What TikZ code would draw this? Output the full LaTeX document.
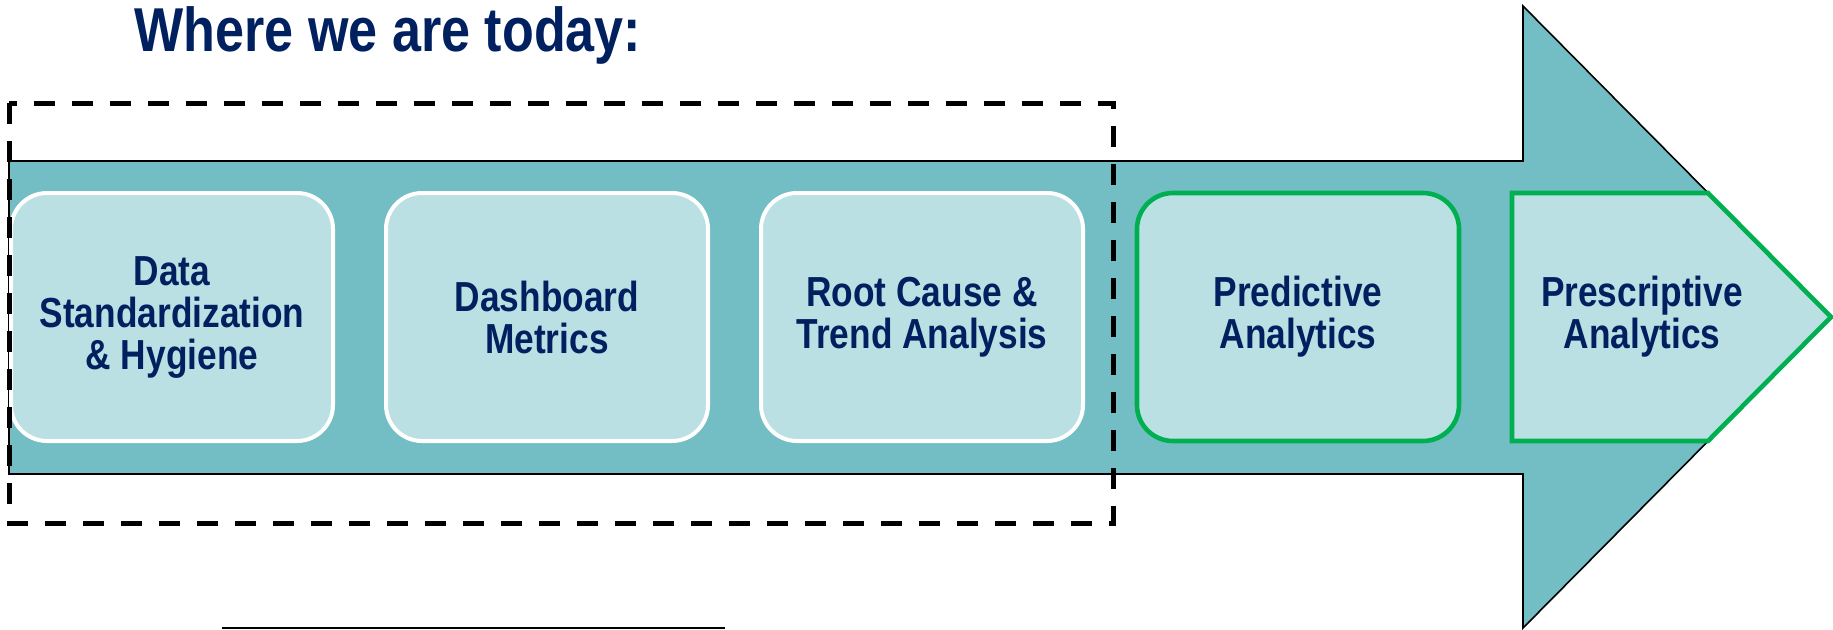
\documentclass[tikz,border=0pt]{standalone}
\usepackage{fontspec}
\usetikzlibrary{calc, backgrounds}
\newfontfamily\stagefont[FakeStretch=0.84]{Liberation Sans}
\definecolor{roadteal}{rgb}{0.451, 0.745, 0.773}
\definecolor{roadmist}{rgb}{0.733, 0.878, 0.890}
\definecolor{roadgreen}{rgb}{0, 0.690, 0.314}
\definecolor{roadnavy}{rgb}{0, 0.125, 0.376}

\tikzset{
    stage/.style={rectangle, rounded corners=18pt, fill=roadmist, line width=2pt,
        minimum width=161pt, minimum height=124pt, inner sep=0pt, align=center,
        text=roadnavy, font=\stagefont\bfseries\fontsize{21}{21}\selectfont},
    donestage/.style={stage, draw=white},
    nextstage/.style={stage, draw=roadgreen, line width=2.3pt}
}

\begin{document}
\begin{tikzpicture}[x=0.5pt, y=-0.5pt]
        \useasboundingbox (0, 0) rectangle (1833, 629);
        \begin{scope}
            % big arrow behind the stages
            \draw [fill=roadteal, line width=0.8pt] (9, 161) -- (1523, 161) -- (1523, 6) -- (1831, 317)
                -- (1523, 628) -- (1523, 474) -- (9, 474) -- cycle;

            \node [anchor=base, text=roadnavy, font=\stagefont\bfseries\fontsize{31}{31}\selectfont] (heading) at (388, 51) {Where we are today:};

            \node [donestage] (S1) at (172, 317) {Data\\Standardization\\\& Hygiene};
            \node [donestage] (S2) at (547, 317) {Dashboard\\Metrics};
            \node [donestage] (S3) at (922, 317) {Root Cause \&\\Trend Analysis};
            \node [nextstage] (S4) at (1298, 317) {Predictive\\Analytics};

            % last stage follows the arrow point
            \draw [fill=roadmist, draw=roadgreen, line width=2.3pt] (1512, 193) -- (1708, 193) -- (1831, 317)
                -- (1708, 441) -- (1512, 441) -- cycle;
            \node [align=center, text=roadnavy, font=\stagefont\bfseries\fontsize{21}{21}\selectfont] (S5) at (1642, 317) {Prescriptive\\Analytics};

            % today
            \draw [line width=2.5pt, dash pattern=on 10.5pt off 8.5pt] (9, 103) rectangle (1113, 523);

            \draw [line width=1pt] (222, 628) -- (725, 628);
        \end{scope}
    \end{tikzpicture}
\end{document}
